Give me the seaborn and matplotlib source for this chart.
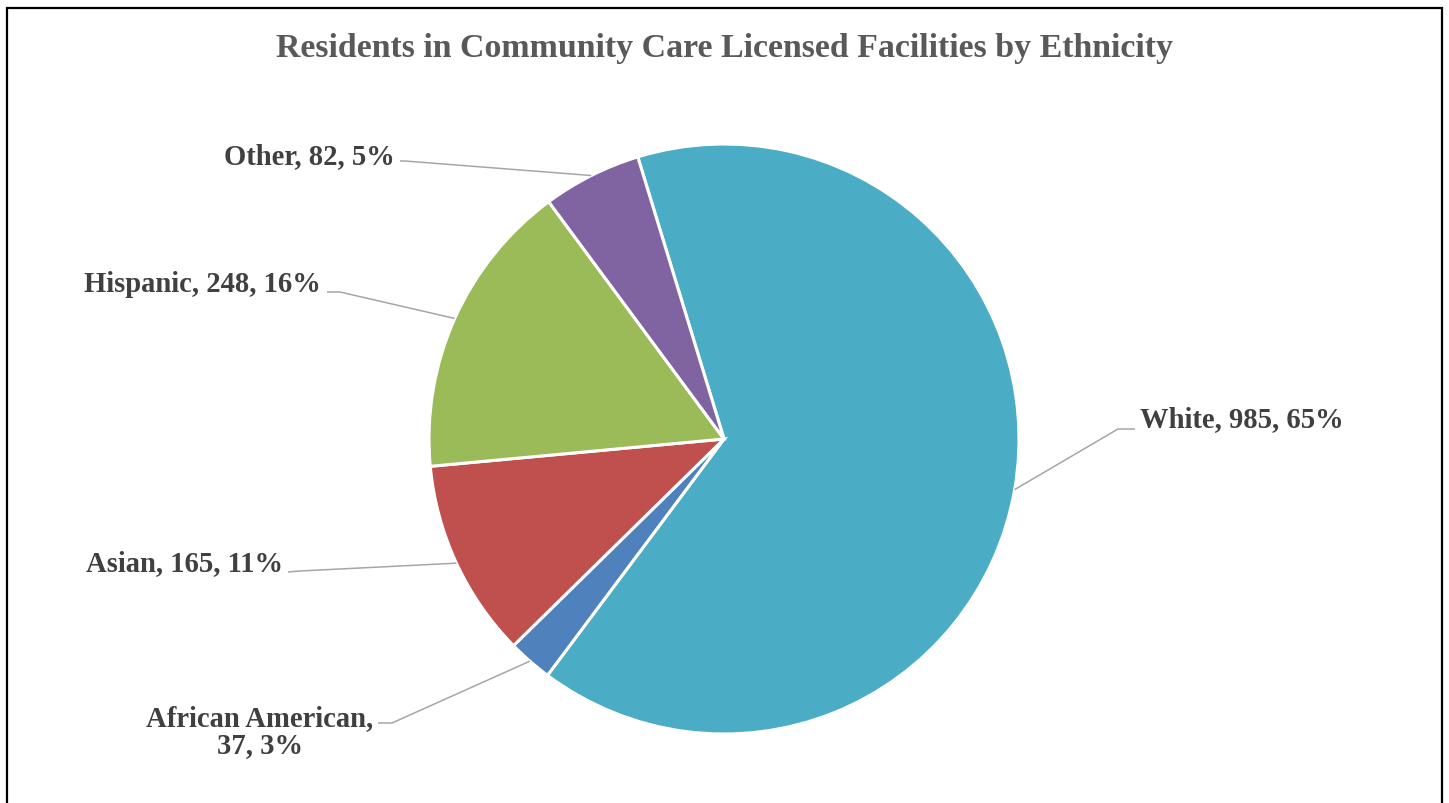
import numpy as np
import matplotlib
matplotlib.use("Agg")
import matplotlib.pyplot as plt
import seaborn as sns

# Residents by ethnicity
categories = ["White", "African American", "Asian", "Hispanic", "Other"]
counts = [985, 37, 165, 248, 82]
pct_labels = [65, 3, 11, 16, 5]
colors = ["#4BACC6", "#4F81BD", "#C0504D", "#9BBB59", "#8064A2"]

title = "Residents in Community Care Licensed Facilities by Ethnicity"

sns.set_theme(style="white")
plt.rcParams["font.family"] = ["Liberation Serif", "DejaVu Serif"]

W, H = 1449, 804
fig = plt.figure(figsize=(W / 100, H / 100), dpi=100)
ax = fig.add_axes([0, 0, 1, 1])

cx, cy, r = 724, H - 440, 295
start = 107  # degrees, counter-clockwise from +x; slices run clockwise
palette = sns.color_palette(colors)
wedges, _ = ax.pie(counts, colors=palette, startangle=start, counterclock=False,
                   center=(cx, cy), radius=r,
                   wedgeprops=dict(edgecolor="white", linewidth=2.2))

# pie() resets the limits, so fix the pixel-sized canvas afterwards
ax.set_xlim(0, W)
ax.set_ylim(0, H)
ax.set_aspect("equal")
ax.axis("off")

# label layout: text anchor, elbow point, line end near text
label_layout = {
    "White": dict(text=(1140, 420), ha="left", elbow=(1118, 430), end=(1135, 430)),
    "African American": dict(text=(260, 732), ha="center", elbow=(392, 724), end=(378, 724)),
    "Asian": dict(text=(283, 564), ha="right", elbow=(300, 572), end=(288, 573)),
    "Hispanic": dict(text=(321, 284), ha="right", elbow=(340, 293), end=(327, 293)),
    "Other": dict(text=(395, 157), ha="right", elbow=(405, 162), end=(400, 162)),
}

for w, cat, n, p in zip(wedges, categories, counts, pct_labels):
    lay = label_layout[cat]
    mid = np.deg2rad((w.theta1 + w.theta2) / 2)
    x0 = cx + r * np.cos(mid)
    y0 = cy + r * np.sin(mid)
    ex, ey = lay["elbow"]
    tx, ty = lay["end"]
    ax.plot([x0, ex, tx], [y0, H - ey, H - ty], color="#A6A6A6", lw=1.1,
            solid_capstyle="butt", zorder=1)
    if cat == "African American":
        s = f"African American,\n{n}, {p}%"
    else:
        s = f"{cat}, {n}, {p}%"
    x, y = lay["text"]
    ax.text(x, H - y, s, ha=lay["ha"], va="center", fontsize=20.6,
            fontweight="bold", color="#404040", linespacing=0.98, multialignment="center")

ax.text(724, H - 49, title, ha="center", va="center", fontsize=24.4,
        fontweight="bold", color="#595959")

# chart frame
ax.plot([7, 7, 1442, 1442], [-5, H - 9, H - 9, -5], color="black", lw=1.6,
        solid_joinstyle="miter", clip_on=False)

fig.savefig("out.png", dpi=100, facecolor="white")
